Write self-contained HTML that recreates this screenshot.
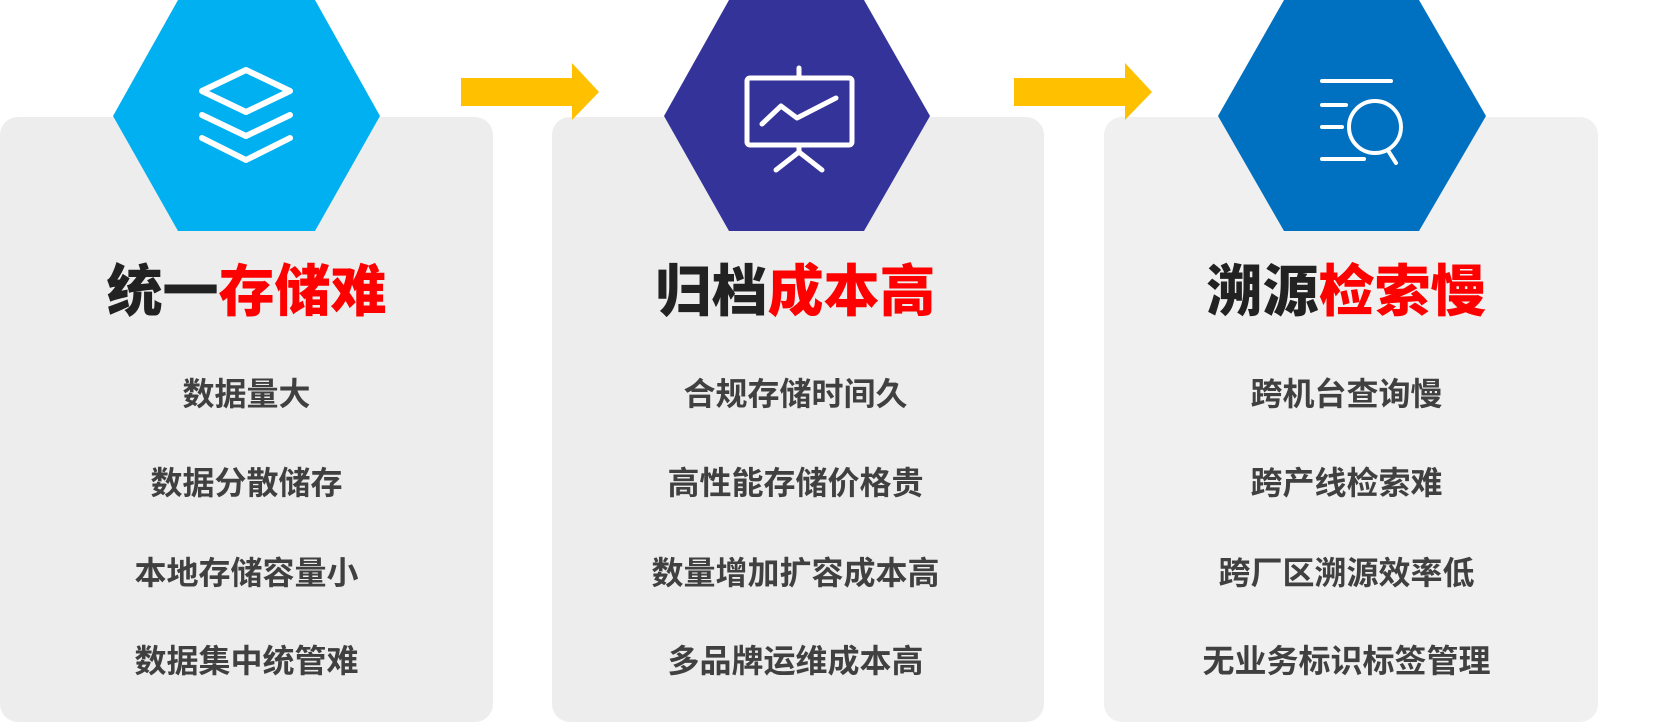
<!DOCTYPE html>
<html><head><meta charset="utf-8"><style>
html,body{margin:0;padding:0;background:#fff;}
body{width:1673px;height:723px;position:relative;overflow:hidden;font-family:"Liberation Sans","Noto Sans CJK SC",sans-serif;}
.card{position:absolute;top:117px;height:605px;border-radius:18px;}
.t{position:absolute;width:493px;text-align:center;font-weight:900;}
.title{top:256px;font-size:56px;line-height:72px;color:#222;}
.title span{color:#ff0000;}
.it{font-size:32px;line-height:40px;color:#404040;font-weight:bold;}
</style></head><body>
<div class="card" style="left:0;width:493px;background:#ededed"></div>
<div class="card" style="left:552px;width:492px;background:#ededed"></div>
<div class="card" style="left:1104px;width:494px;background:#f0f0f0"></div>
<svg width="1673" height="723" style="position:absolute;left:0;top:0">
<polygon points="178,0 315,0 380,116 315,231 178,231 113,116" fill="#00b0f0"/>
<polygon points="729,0 864,0 930,116 864,231 729,231 664,116" fill="#333399"/>
<polygon points="1284,0 1419,0 1486,116 1419,231 1284,231 1218,116" fill="#0070c0"/>
<polygon points="461,78 572,78 572,63 599,92 572,120 572,106 461,106" fill="#ffc000"/>
<polygon points="1014,78 1125,78 1125,63 1152,92 1125,120 1125,106 1014,106" fill="#ffc000"/>
<g fill="none" stroke="#fff" stroke-width="6" stroke-linecap="round" stroke-linejoin="round">
<polygon points="246,70 290,91 246,112 202,91"/>
<polyline points="202,115 246,136 290,115"/>
<polyline points="202,138 246,160 290,138"/>
</g>
<g fill="none" stroke="#fff" stroke-width="5" stroke-linecap="round" stroke-linejoin="round">
<rect x="747" y="78" width="105" height="67" rx="3"/>
<line x1="799" y1="68" x2="799" y2="78"/>
<polyline points="762,124 781,106 797,118 836,98"/>
<polyline points="776,170 799,152 822,170"/>
<line x1="799" y1="145" x2="799" y2="152"/>
</g>
<g fill="none" stroke="#fff" stroke-width="4" stroke-linecap="round">
<line x1="1322" y1="81" x2="1391" y2="81"/>
<line x1="1322" y1="105" x2="1346" y2="105"/>
<line x1="1322" y1="127" x2="1342" y2="127"/>
<line x1="1322" y1="159" x2="1364" y2="159"/>
<circle cx="1375" cy="127" r="26"/>
<line x1="1389" y1="152" x2="1396" y2="163"/>
</g>
</svg>
<div class="t title" style="left:0">统一<span>存储难</span></div>
<div class="t title" style="left:549px">归档<span>成本高</span></div>
<div class="t title" style="left:1100px">溯源<span>检索慢</span></div>
<div class="t it" style="left:0;top:374px">数据量大</div>
<div class="t it" style="left:0;top:463px">数据分散储存</div>
<div class="t it" style="left:0;top:553px">本地存储容量小</div>
<div class="t it" style="left:0;top:641px">数据集中统管难</div>
<div class="t it" style="left:549px;top:374px">合规存储时间久</div>
<div class="t it" style="left:549px;top:463px">高性能存储价格贵</div>
<div class="t it" style="left:549px;top:553px">数量增加扩容成本高</div>
<div class="t it" style="left:549px;top:641px">多品牌运维成本高</div>
<div class="t it" style="left:1100px;top:374px">跨机台查询慢</div>
<div class="t it" style="left:1100px;top:463px">跨产线检索难</div>
<div class="t it" style="left:1100px;top:553px">跨厂区溯源效率低</div>
<div class="t it" style="left:1100px;top:641px">无业务标识标签管理</div>
</body></html>
